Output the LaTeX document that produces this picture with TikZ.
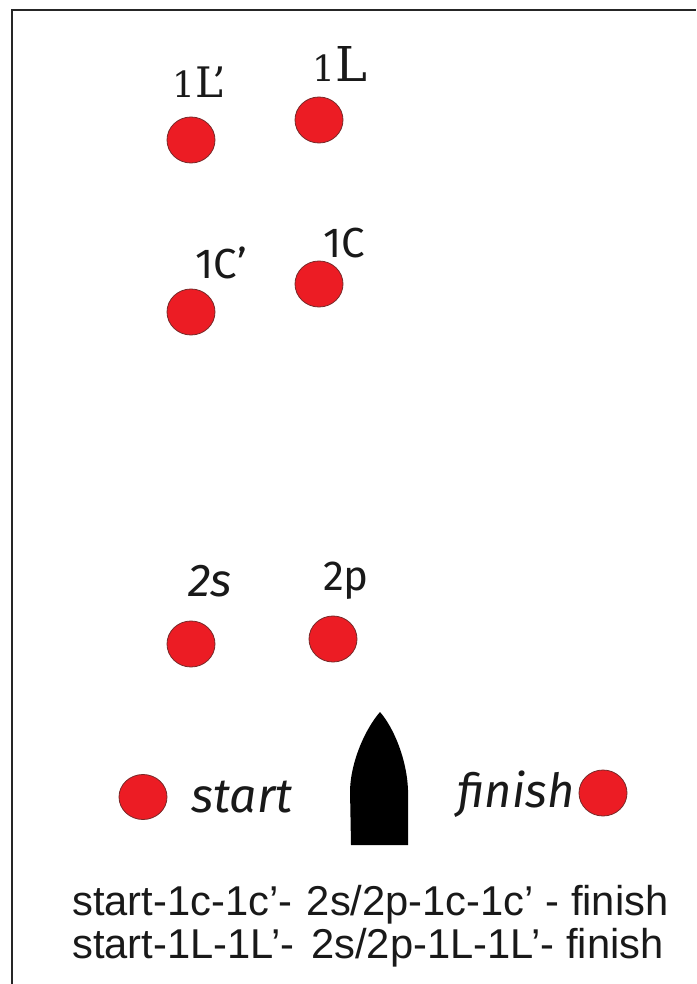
\documentclass[tikz,border=0pt]{standalone}
\usepackage{fontspec}
\setmainfont{Liberation Sans}
\newfontfamily\handfont{Fira Sans}[ItalicFont={Fira Sans Italic}]
\newfontfamily\slabfont{DejaVu Serif}
\definecolor{dotred}{RGB}{236,28,36}
\definecolor{dotedge}{RGB}{120,40,40}
\usetikzlibrary{shapes.geometric}
\tikzset{
  dot/.style={ellipse,draw=dotedge,line width=0.8pt,fill=dotred,minimum width=48pt,minimum height=46pt,inner sep=0pt},
  hand/.style={inner sep=0pt,text=black!90,font=\handfont\fontsize{42}{42}\selectfont},
  handit/.style={inner sep=0pt,text=black!90,font=\handfont\itshape\fontsize{46}{46}\selectfont},
  slab/.style={inner sep=0pt,text=black!90,anchor=base west,font=\slabfont\fontsize{36}{36}\selectfont},
  lab/.style={inner sep=0pt,text=black!90,font=\fontsize{41.7}{42}\selectfont,anchor=base west}
}
\begin{document}
\begin{tikzpicture}[x=1pt,y=-1pt]
\useasboundingbox (0,0) rectangle (696,984);
\fill[white] (0,0) rectangle (696,984);
\draw[line width=1.3pt,black!85] (12,984) -- (12,10) -- (696,10);
\node[dot] (d1Lp) at (191,140) {};
\node[dot] (d1L) at (319,120) {};
\node[dot] (d1Cp) at (191,312) {};
\node[dot] (d1C) at (319,284) {};
\node[dot] (d2s) at (191,644) {};
\node[dot] (d2p) at (333,639) {};
\node[dot,minimum height=45pt] (dstart) at (143,797) {};
\node[dot] (dfinish) at (603,793) {};
\node[slab] (t1Lp) at (172,98) {1{\fontsize{42}{42}\selectfont L’}};
\node[slab] (t1L) at (312,82) {1{\fontsize{48}{48}\selectfont L}};
\node[hand] (t1Cp) at (221,263) {1C’};
\node[hand] (t1C) at (344,243) {1C};
\node[handit] (t2s) at (210,581) {2s};
\node[hand] (t2p) at (346,581) {2p};
\node[handit,font=\handfont\itshape\fontsize{48}{48}\selectfont] (tstart) at (242,797) {start};
\node[handit,font=\handfont\itshape\fontsize{47}{47}\selectfont] (tfinish) at (516,794) {finish};
\fill[black] (351,845) -- (350,790) .. controls (351,760) and (366,728) .. (380,712) .. controls (394,728) and (407,760) .. (408,790) -- (408,845) -- cycle;
\node[lab] (line1) at (72,915) {start-1c-1c’-\kern3pt{} 2s/2p-1c-1c’ - finish};
\node[lab] (line2) at (72,958) {start-1L-1L’-\kern5pt{} 2s/2p-1L-1L’- finish};
\end{tikzpicture}
\end{document}
